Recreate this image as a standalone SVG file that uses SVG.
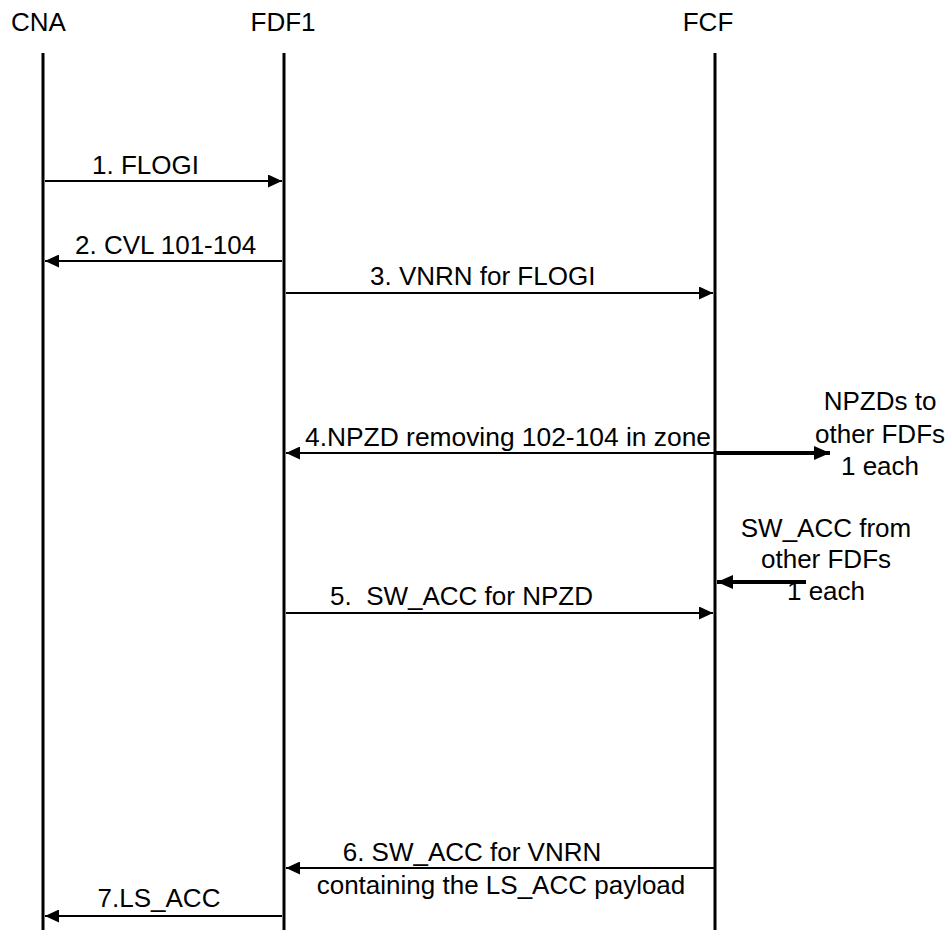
<svg xmlns="http://www.w3.org/2000/svg" width="950" height="930" viewBox="0 0 950 930">
<defs>
<marker id="ah" viewBox="0 0 10 10" refX="10" refY="5" markerWidth="14" markerHeight="13" markerUnits="userSpaceOnUse" orient="auto" preserveAspectRatio="none">
<path d="M0,0 L10,5 L0,10 Z" fill="#000"/>
</marker>
<marker id="ahb" viewBox="0 0 10 10" refX="10" refY="5" markerWidth="16" markerHeight="14" markerUnits="userSpaceOnUse" orient="auto" preserveAspectRatio="none">
<path d="M0,0 L10,5 L0,10 Z" fill="#000"/>
</marker>
</defs>
<style>
text{font-family:"Liberation Sans",Arial,sans-serif;font-size:26px;fill:#000}
.life{stroke:#000;stroke-width:3}
.msg{stroke:#000;stroke-width:2;fill:none;marker-end:url(#ah)}
.thick{stroke:#000;stroke-width:4;fill:none;marker-end:url(#ahb)}
.c{text-anchor:middle}
</style>
<rect width="950" height="930" fill="#fff"/>
<g id="cna">
<text x="11" y="31">CNA</text>
<line class="life" x1="43" y1="53" x2="43" y2="930"/>
</g>
<g id="fdf1">
<text class="c" x="283" y="31">FDF1</text>
<line class="life" x1="284" y1="53" x2="284" y2="930"/>
</g>
<g id="fcf">
<text class="c" x="708" y="31">FCF</text>
<line class="life" x1="715" y1="53" x2="715" y2="930"/>
</g>
<g id="connectors">
<line class="msg" x1="45" y1="181" x2="282" y2="181"/>
<line class="msg" x1="282" y1="261" x2="45" y2="261"/>
<line class="msg" x1="286" y1="293" x2="713" y2="293"/>
<line class="msg" x1="715" y1="453" x2="286" y2="453"/>
<line class="thick" x1="715" y1="453" x2="830" y2="453"/>
<line class="thick" x1="806" y1="582" x2="717" y2="582"/>
<line class="msg" x1="286" y1="613" x2="713" y2="613"/>
<line class="msg" x1="715" y1="868" x2="286" y2="868"/>
<line class="msg" x1="282" y1="916" x2="45" y2="916"/>
</g>
<g id="labels">
<text x="92" y="174">1. FLOGI</text>
<text x="75" y="254">2. CVL 101-104</text>
<text x="370" y="285">3. VNRN for FLOGI</text>
<text x="305" y="446" textLength="406" lengthAdjust="spacingAndGlyphs">4.NPZD removing 102-104 in zone</text>
<text class="c" x="880" y="410">NPZDs to</text>
<text class="c" x="880" y="443">other FDFs</text>
<text class="c" x="880" y="475">1 each</text>
<text class="c" x="826" y="537">SW_ACC from</text>
<text class="c" x="826" y="568">other FDFs</text>
<text class="c" x="826" y="600">1 each</text>
<text x="330" y="605" xml:space="preserve">5.  SW_ACC for NPZD</text>
<text class="c" x="472" y="861">6. SW_ACC for VNRN</text>
<text class="c" x="501" y="894">containing the LS_ACC payload</text>
<text class="c" x="159" y="907">7.LS_ACC</text>
</g>
</svg>
